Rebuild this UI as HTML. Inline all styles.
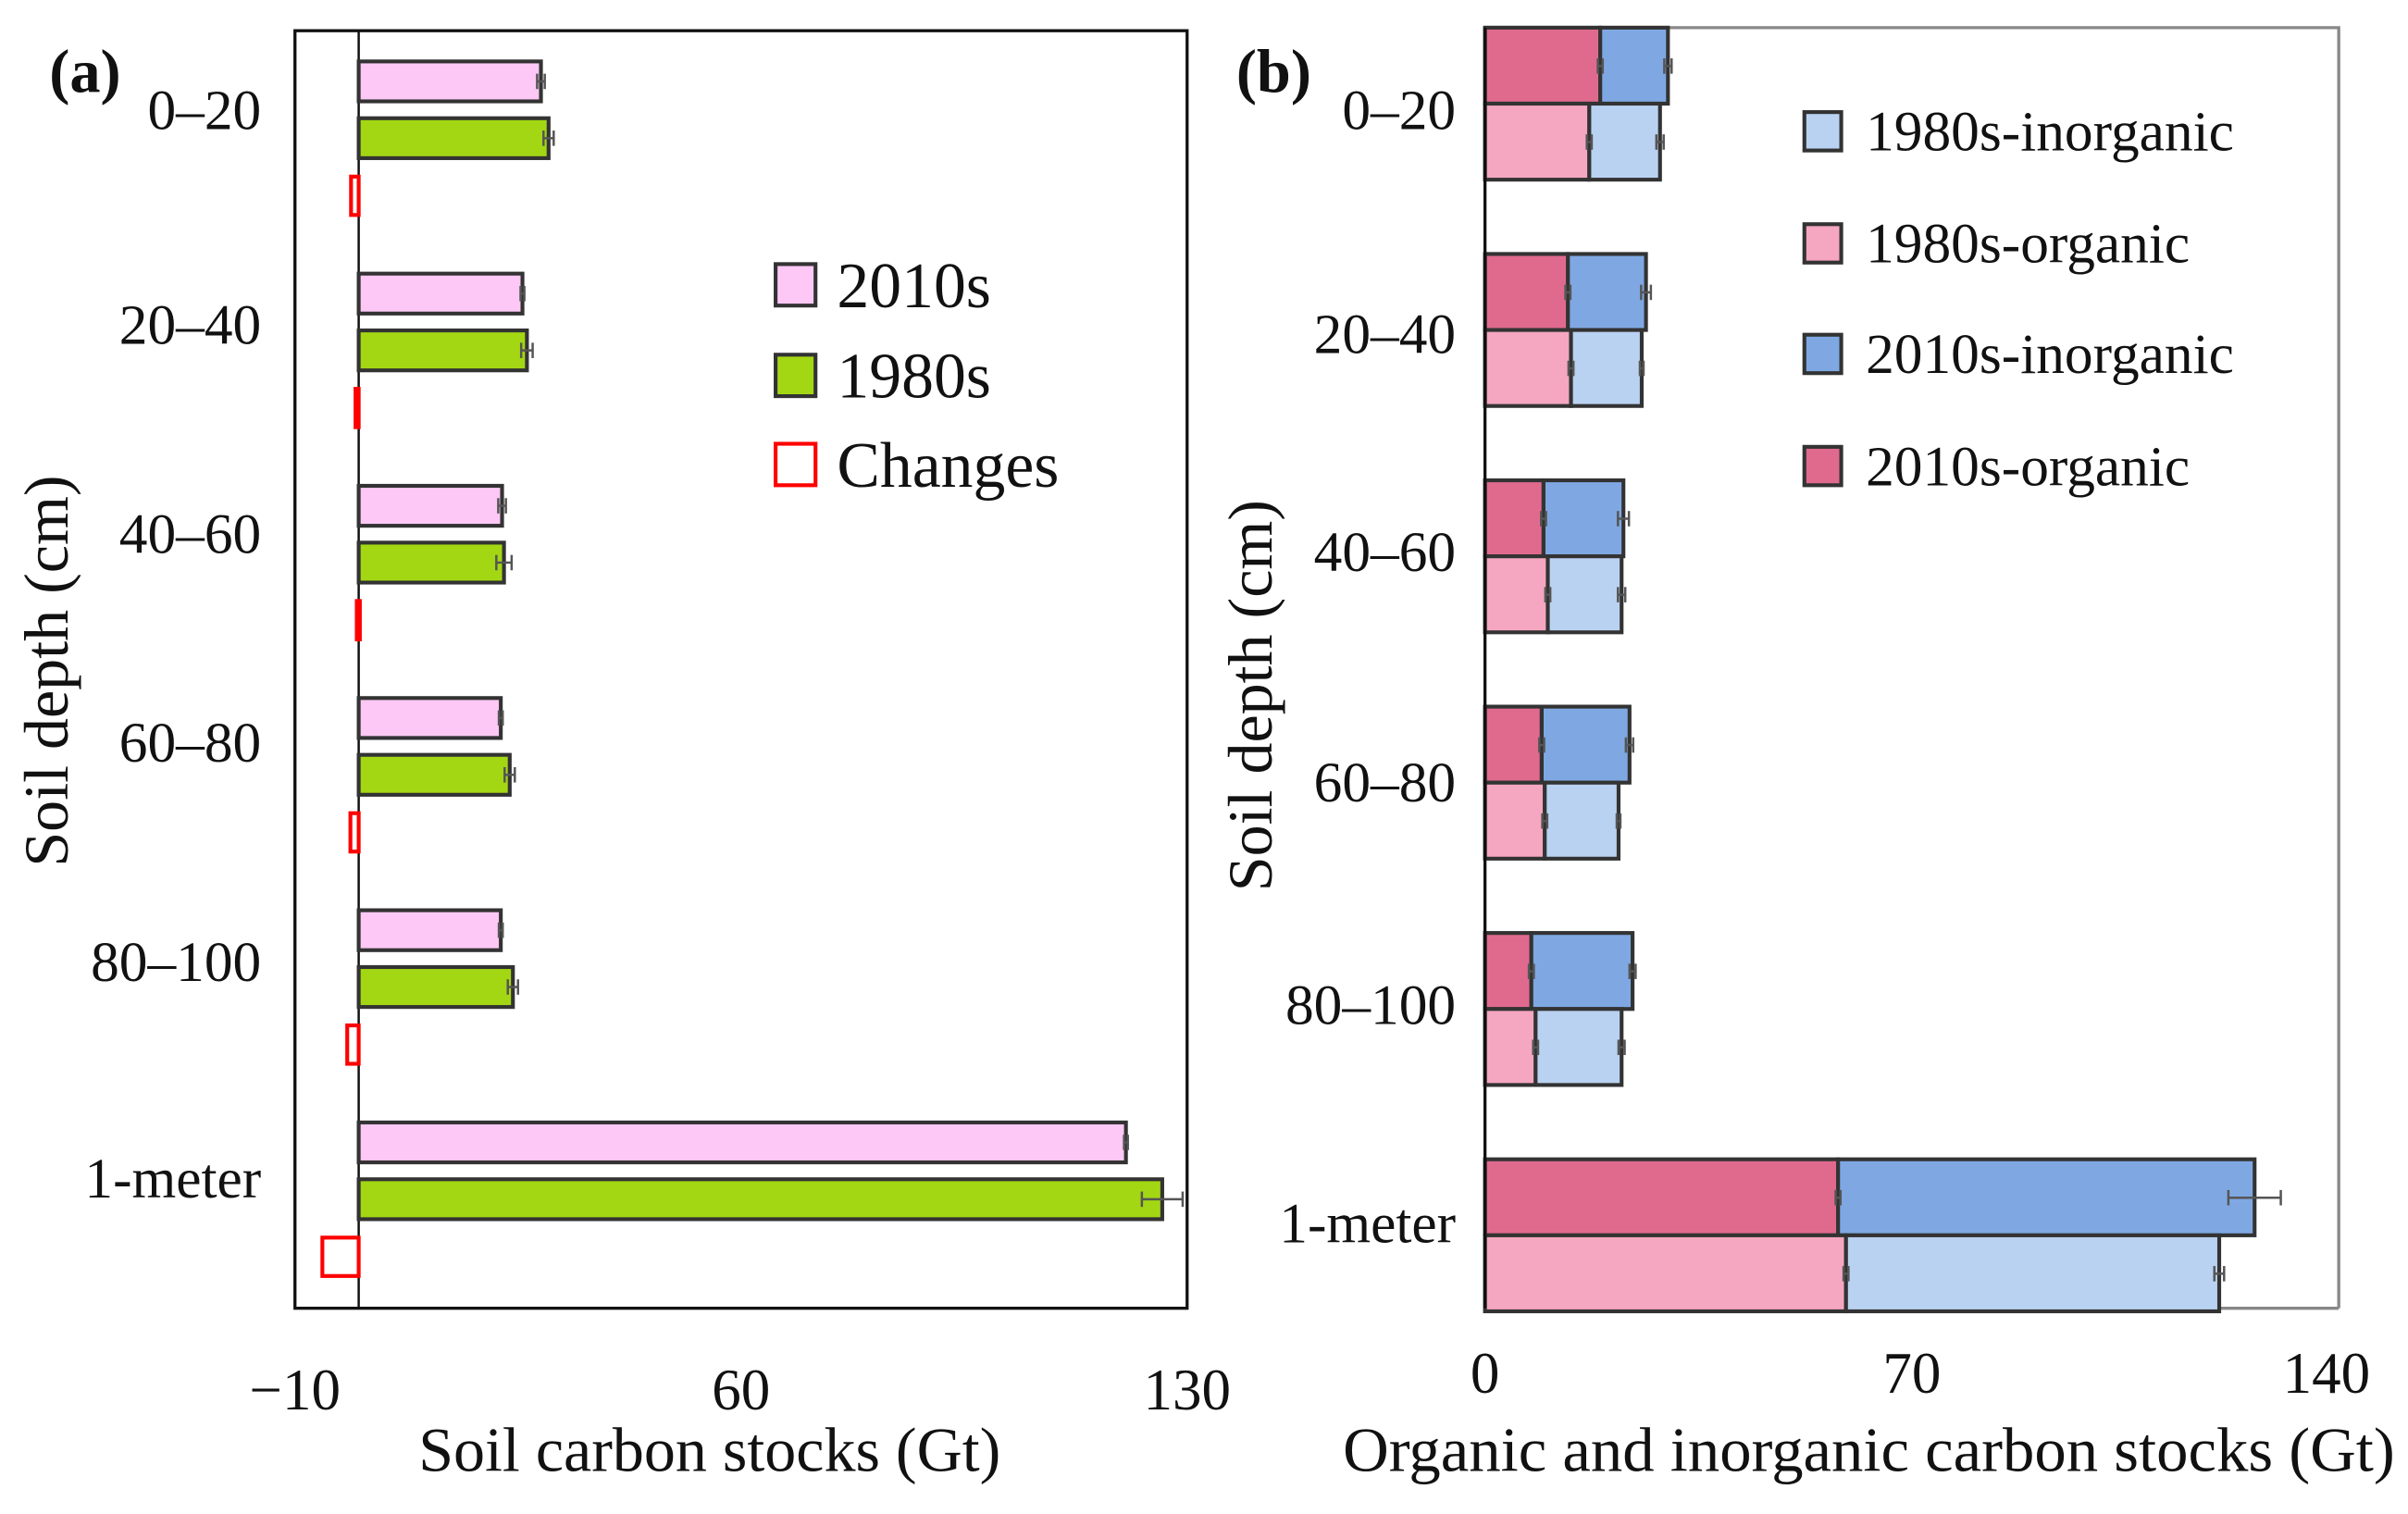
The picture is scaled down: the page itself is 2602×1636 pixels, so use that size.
<!DOCTYPE html>
<html><head><meta charset="utf-8">
<style>
html,body{margin:0;padding:0;background:#fff;}
svg{display:block;}
text{font-family:"Liberation Serif",serif;fill:#111;}
</style></head>
<body>
<svg id="chart" width="2602" height="1636" viewBox="0 0 1568 986" xmlns="http://www.w3.org/2000/svg">
<g id="pa"></g>
<g id="pb"></g>
</svg>
<script>
const categories = ["0–20","20–40","40–60","60–80","80–100","1-meter"];
const stock2010s = [28.6,25.7,22.5,22.3,22.3,120.4];
const stock1980s = [29.8,26.4,22.8,23.7,24.2,126.1];
const err2010s = [0.6,0.3,0.6,0.3,0.3,0.3];
const err1980s = [0.8,0.9,1.2,0.8,0.8,3.2];
const changes = [-1.2,-0.5,-0.3,-1.3,-1.8,-5.7];
const ticksA = [-10,60,130];
const org2010s = [18.9,13.6,9.6,9.3,7.6,57.9];
const inorg2010s = [11.1,12.8,13.1,14.4,16.6,68.3];
const org1980s = [17.1,14.1,10.3,9.8,8.3,59.2];
const inorg1980s = [11.6,11.6,12.1,12.1,14.1,61.2];
const errTot2010s = [0.6,0.8,0.9,0.6,0.5,4.3];
const errTot1980s = [0.6,0.3,0.6,0.3,0.5,0.8];
const ticksB = [0,70,140];

const NS="http://www.w3.org/2000/svg";
function mk(parent,tag,attrs,txt){const e=document.createElementNS(NS,tag);for(const k in attrs)e.setAttribute(k,attrs[k]);if(txt!==undefined)e.textContent=txt;parent.appendChild(e);return e;}

// Panel A
const pa=document.getElementById('pa');
const xA=v=>192+(v+10)*(581/140);
const yA=i=>40+i*138.2;
let e;
e=mk(pa,'rect',{x:192,y:20,width:581,height:832,fill:'none',stroke:'#111','stroke-width':2});

e=mk(pa,'line',{x1:xA(0),x2:xA(0),y1:20,y2:852,stroke:'#111','stroke-width':1.5});

function errbar(p,x,y,h,er,sx){const a=sx(er)-sx(0);
 const g=mk(p,'g',{stroke:'#555','stroke-width':1.5});
 mk(g,'line',{x1:x-a,x2:x+a,y1:y,y2:y});mk(g,'line',{x1:x-a,x2:x-a,y1:y-h,y2:y+h});mk(g,'line',{x1:x+a,x2:x+a,y1:y-h,y2:y+h});
 }
categories.forEach((c,i)=>{
 const y=yA(i);
 e=mk(pa,'rect',{x:xA(0),y:y,width:xA(stock2010s[i])-xA(0),height:26,fill:'#fdc8f5',stroke:'#333','stroke-width':2.5});
 
 errbar(pa,xA(stock2010s[i]),y+13,5,err2010s[i],v=>v*581/140);
 e=mk(pa,'rect',{x:xA(0),y:y+37,width:xA(stock1980s[i])-xA(0),height:26,fill:'#a3d713',stroke:'#333','stroke-width':2.5});
 
 errbar(pa,xA(stock1980s[i]),y+50,5,err1980s[i],v=>v*581/140);
 const x0=xA(changes[i]);
 e=mk(pa,'rect',{x:x0,y:y+75,width:Math.max(xA(0)-x0,2),height:25,fill:'#fff',stroke:'#ff0000','stroke-width':2.5});
 
 const ly=[72,212,348,484,627,768][i];
 e=mk(pa,'text',{x:170,y:ly+12,'text-anchor':'end','font-size':37},c);
 
});
ticksA.forEach(t=>{e=mk(pa,'text',{x:xA(t),y:918,'text-anchor':'middle','font-size':38},t<0?'−'+Math.abs(t):t);
 });
e=mk(pa,'text',{x:462,y:958,'text-anchor':'middle','font-size':41},'Soil carbon stocks (Gt)');

e=mk(pa,'text',{x:0,y:0,'text-anchor':'middle','font-size':41,transform:'translate(44,437) rotate(-90)'},'Soil depth (cm)');

e=mk(pa,'text',{x:32,y:60,'font-size':40,'font-weight':'bold'},'(a)');

[['2010s','#fdc8f5','#333',172],['1980s','#a3d713','#333',231],['Changes','#fff','#ff0000',289]].forEach(l=>{
 const g=mk(pa,'g',{});
 mk(g,'rect',{x:505,y:l[3],width:26,height:27,fill:l[1],stroke:l[2],'stroke-width':2.5});
 mk(g,'text',{x:545,y:l[3]+28,'font-size':42},l[0]);
});

// Panel B
const pb=document.getElementById('pb');
const xB=v=>967+v*(556/140);
const yB=i=>18+i*147.4;
e=mk(pb,'path',{d:'M967,18 H1523 V852',fill:'none',stroke:'#888','stroke-width':2});

e=mk(pb,'line',{x1:967,x2:1523,y1:852,y2:852,stroke:'#888','stroke-width':2});

categories.forEach((c,i)=>{
 const y=yB(i);
 const rows=[[org2010s[i],inorg2010s[i],'#e06a8e','#7fa8e3',errTot2010s[i],y,'2010s'],[org1980s[i],inorg1980s[i],'#f5a6c0','#bad2f2',errTot1980s[i],y+49.5,'1980s']];
 rows.forEach(r=>{
  e=mk(pb,'rect',{x:xB(0),y:r[5],width:xB(r[0])-xB(0),height:49.5,fill:r[2],stroke:'#333','stroke-width':2.5});
  
  e=mk(pb,'rect',{x:xB(r[0]),y:r[5],width:xB(r[0]+r[1])-xB(r[0]),height:49.5,fill:r[3],stroke:'#333','stroke-width':2.5});
  
  errbar(pb,xB(r[0]),r[5]+25,5,0.4,v=>v*556/140);
  errbar(pb,xB(r[0]+r[1]),r[5]+25,5,r[4],v=>v*556/140);
 });
 const ly=[72,218,360,510,655,797][i];
 e=mk(pb,'text',{x:948,y:ly+12,'text-anchor':'end','font-size':37},c);
 
});
e=mk(pb,'line',{x1:967,x2:967,y1:18,y2:852,stroke:'#111','stroke-width':2});

ticksB.forEach(t=>{e=mk(pb,'text',{x:t===140?1515:xB(t),y:907,'text-anchor':'middle','font-size':38},t);
 });
e=mk(pb,'text',{x:1217,y:958,'text-anchor':'middle','font-size':41,textLength:685,lengthAdjust:'spacingAndGlyphs'},'Organic and inorganic carbon stocks (Gt)');

e=mk(pb,'text',{x:0,y:0,'text-anchor':'middle','font-size':41,transform:'translate(828,453) rotate(-90)'},'Soil depth (cm)');

e=mk(pb,'text',{x:805,y:60,'font-size':40,'font-weight':'bold'},'(b)');

[['1980s-inorganic','#bad2f2',73],['1980s-organic','#f5a6c0',146],['2010s-inorganic','#7fa8e3',218],['2010s-organic','#e06a8e',291]].forEach(l=>{
 const g=mk(pb,'g',{});
 mk(g,'rect',{x:1175,y:l[2],width:24,height:25,fill:l[1],stroke:'#333','stroke-width':2.5});
 mk(g,'text',{x:1215,y:l[2]+25,'font-size':37},l[0]);
});
</script>
</body></html>
